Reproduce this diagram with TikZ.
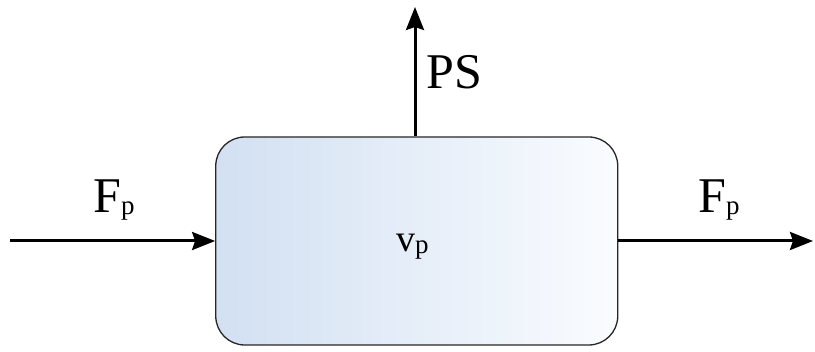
\documentclass[tikz,border=0pt]{standalone}
\usepackage{fontspec}
\setmainfont{Liberation Serif}
\usetikzlibrary{arrows.meta}
\tikzset{
  flow/.style={line width=3pt,-{Stealth[length=23pt,width=18pt,inset=3pt]}},
  tank/.style={draw=black!85,line width=1.3pt,rounded corners=29pt,left color=blue!18!cyan!6!white!92!black!0,right color=white},
  big/.style={inner sep=0pt,anchor=base west,font=\fontsize{50}{50}\selectfont},
  mid/.style={inner sep=0pt,anchor=base west,font=\fontsize{38}{38}\selectfont}
}
\newcommand{\subp}{\raisebox{-2pt}{\fontsize{27}{27}\selectfont p}}
\begin{document}
\begin{tikzpicture}[x=1pt,y=1pt]
\useasboundingbox (0,0) rectangle (815,352);
\definecolor{tankleft}{HTML}{D2E0F2}
\definecolor{tankright}{HTML}{FAFCFF}
\node[draw=black!85,line width=1.3pt,rounded corners=29pt,left color=tankleft,right color=tankright,minimum width=402pt,minimum height=208pt,inner sep=0pt] (tank) at (416.75,111) {};
\coordinate (src) at (10,111);
\coordinate (dst) at (813,111);
\coordinate (top) at (415,345);
\draw[flow] (src) -- (tank.west);
\draw[flow] (tank.east) -- (dst);
\draw[flow] (tank.north -| top) -- (top);
\node[big] (fin) at (93,139) {F\subp};
\node[big] (fout) at (698,139) {F\subp};
\node[big] (ps) at (426,263) {PS};
\node[mid] (vp) at (396,100) {v\subp};
\end{tikzpicture}
\end{document}
